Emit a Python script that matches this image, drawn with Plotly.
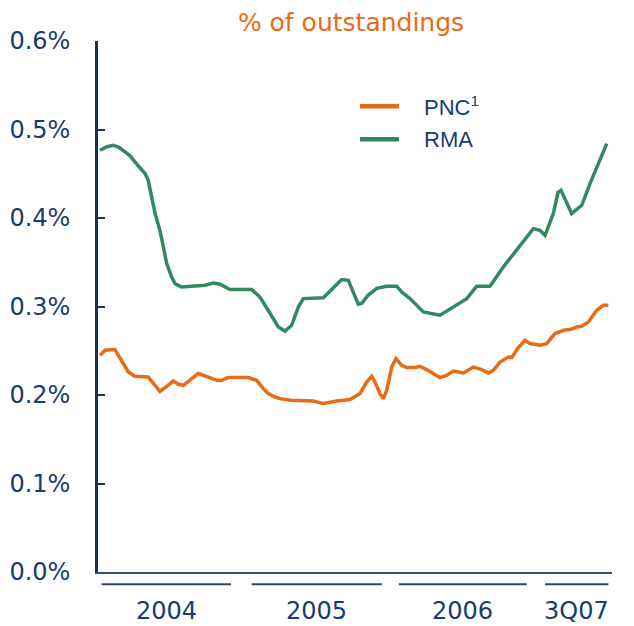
import plotly.graph_objects as go

# ---- data (x in fractional years, y in % of outstandings) ----
rma_x = [2004.000, 2004.011, 2004.047, 2004.090, 2004.128, 2004.169, 2004.203, 2004.236, 2004.270,
         2004.304, 2004.326, 2004.349, 2004.372, 2004.405, 2004.428, 2004.451, 2004.484, 2004.507,
         2004.552, 2004.642, 2004.709, 2004.766, 2004.811, 2004.878, 2005.025, 2005.081, 2005.149,
         2005.205, 2005.250, 2005.295, 2005.340, 2005.374, 2005.509, 2005.576, 2005.633, 2005.678,
         2005.712, 2005.745, 2005.770, 2005.811, 2005.870, 2005.937, 2006.005, 2006.041, 2006.095,
         2006.185, 2006.297, 2006.387, 2006.478, 2006.545, 2006.635, 2006.725, 2006.838, 2006.928,
         2006.973, 2007.007, 2007.063, 2007.095, 2007.115, 2007.154, 2007.187, 2007.255, 2007.311,
         2007.424]
rma_y = [0.4765, 0.4776, 0.4805, 0.4821, 0.4799, 0.4746, 0.4703, 0.4633, 0.4573,
         0.4502, 0.4426, 0.4237, 0.4050, 0.3861, 0.3672, 0.3485, 0.3333, 0.3259,
         0.3220, 0.3228, 0.3240, 0.3266, 0.3251, 0.3191, 0.3191, 0.3107, 0.2920,
         0.2768, 0.2723, 0.2788, 0.2994, 0.3089, 0.3098, 0.3202, 0.3304, 0.3296,
         0.3164, 0.3025, 0.3036, 0.3127, 0.3206, 0.3228, 0.3228, 0.3160, 0.3089,
         0.2938, 0.2901, 0.2994, 0.3089, 0.3228, 0.3228, 0.3446, 0.3692, 0.3880,
         0.3861, 0.3805, 0.4050, 0.4290, 0.4313, 0.4181, 0.4050, 0.4144, 0.4389,
         0.4841]

pnc_x = [2004.000, 2004.034, 2004.101, 2004.147, 2004.191, 2004.236, 2004.326, 2004.372, 2004.405,
         2004.451, 2004.495, 2004.529, 2004.563, 2004.620, 2004.664, 2004.732, 2004.789, 2004.822,
         2004.867, 2005.002, 2005.059, 2005.103, 2005.137, 2005.182, 2005.216, 2005.284, 2005.441,
         2005.509, 2005.599, 2005.689, 2005.757, 2005.802, 2005.836, 2005.858, 2005.892, 2005.914,
         2005.937, 2005.971, 2006.000, 2006.038, 2006.072, 2006.128, 2006.162, 2006.207, 2006.252,
         2006.297, 2006.343, 2006.387, 2006.455, 2006.523, 2006.579, 2006.624, 2006.658, 2006.703,
         2006.759, 2006.782, 2006.827, 2006.872, 2006.905, 2006.973, 2007.018, 2007.074, 2007.131,
         2007.176, 2007.221, 2007.255, 2007.300, 2007.356, 2007.401, 2007.435]
pnc_y = [0.2449, 0.2505, 0.2513, 0.2392, 0.2260, 0.2211, 0.2203, 0.2110, 0.2042,
         0.2098, 0.2158, 0.2121, 0.2110, 0.2185, 0.2242, 0.2203, 0.2166, 0.2166,
         0.2197, 0.2197, 0.2166, 0.2072, 0.2016, 0.1977, 0.1959, 0.1940, 0.1932,
         0.1903, 0.1932, 0.1948, 0.2016, 0.2147, 0.2211, 0.2147, 0.2016, 0.1959,
         0.2053, 0.2316, 0.2411, 0.2336, 0.2310, 0.2310, 0.2324, 0.2287, 0.2242,
         0.2197, 0.2223, 0.2271, 0.2249, 0.2316, 0.2287, 0.2249, 0.2279, 0.2373,
         0.2429, 0.2423, 0.2536, 0.2618, 0.2581, 0.2562, 0.2581, 0.2694, 0.2731,
         0.2739, 0.2768, 0.2776, 0.2825, 0.2957, 0.3014, 0.3014]

y_ticks = [0.0, 0.1, 0.2, 0.3, 0.4, 0.5, 0.6]
period_labels = ["2004", "2005", "2006", "3Q07"]
period_start = [2004.011, 2005.025, 2006.020, 2007.007]
period_end = [2004.885, 2005.904, 2006.883, 2007.435]

series_names = ["PNC<sup>1</sup>", "RMA"]
ORANGE = "#E96B16"
GREEN = "#31895F"
NAVY = "#173C6E"
FONT = "DejaVu Sans"

fig = go.Figure()
fig.add_trace(go.Scatter(x=pnc_x, y=pnc_y, mode="lines", name="PNC",
                         line=dict(color=ORANGE, width=3.5), showlegend=False))
fig.add_trace(go.Scatter(x=rma_x, y=rma_y, mode="lines", name="RMA",
                         line=dict(color=GREEN, width=3.5), showlegend=False))

# year labels + underlines
for lab, s, e in zip(period_labels, period_start, period_end):
    fig.add_shape(type="line", xref="x", yref="paper", x0=s, x1=e, y0=-0.0232, y1=-0.0232,
                  line=dict(color="#2F4560", width=2))
    fig.add_annotation(x=(s + e) / 2, y=-0.074, xref="x", yref="paper", text=lab,
                       showarrow=False, font=dict(family=FONT, size=24, color=NAVY),
                       xanchor="center", yanchor="middle")

# manual legend
leg_items = [(series_names[0], ORANGE, 106), (series_names[1], GREEN, 139)]
for name, col, py in leg_items:
    yp = (571.7 - py) / 531.0
    fig.add_shape(type="line", xref="paper", yref="paper",
                  x0=(360 - 98) / 514, x1=(399 - 98) / 514, y0=yp, y1=yp,
                  line=dict(color=col, width=4.5))
    fig.add_annotation(x=(422 - 98) / 514, y=yp, xref="paper", yref="paper", text=name,
                       showarrow=False, xanchor="left", yanchor="middle",
                       font=dict(family="Liberation Sans", size=22, color=NAVY))

fig.update_layout(
    width=634, height=626,
    margin=dict(l=98, r=22, t=40.7, b=54.3),
    paper_bgcolor="white", plot_bgcolor="white",
    title=dict(text="% of outstandings", x=351 / 634, xanchor="center", y=1 - 22 / 626,
               yanchor="middle", font=dict(family=FONT, size=25, color=ORANGE)),
    showlegend=False,
)
fig.update_xaxes(range=[2003.9865, 2007.4595], showgrid=False, zeroline=False, automargin=False,
                 showticklabels=False, ticks="", showline=True, linecolor="#3B506C", linewidth=1.5)
fig.update_yaxes(range=[0, 0.6], tickvals=y_ticks, ticktext=[f"{v:.1f}%" for v in y_ticks],
                 showgrid=False, zeroline=False, showline=True, linecolor="#1B3050", linewidth=2.5,
                 ticks="inside", ticklen=7, tickwidth=1.5, tickcolor="#1B3050",
                 ticklabelstandoff=20, automargin=False,
                 tickfont=dict(family=FONT, size=24, color=NAVY))

fig.write_html("out.html", config={"displayModeBar": False},
               post_script="document.body.style.margin='0';document.body.style.padding='0';")
